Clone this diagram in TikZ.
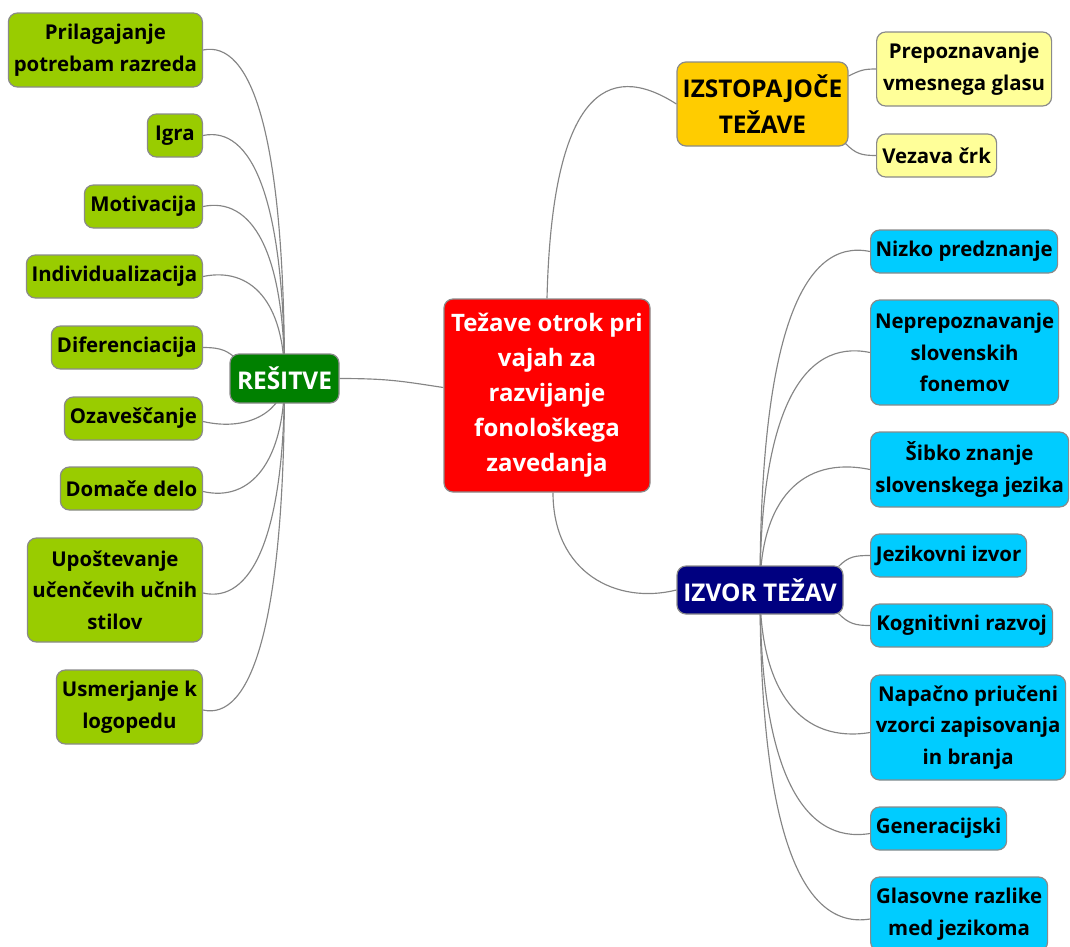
\documentclass[tikz,border=0pt]{standalone}
\usepackage{fontspec}
\setmainfont{Open Sans}
\usetikzlibrary{calc,backgrounds}

\definecolor{leafgreen}{HTML}{99CC00}
\definecolor{darkgreen}{HTML}{008000}
\definecolor{rootred}{HTML}{FF0000}
\definecolor{amber}{HTML}{FFCC00}
\definecolor{paleyellow}{HTML}{FFFF99}
\definecolor{navy}{HTML}{000080}
\definecolor{skyblue}{HTML}{00CCFF}
\definecolor{rimgray}{HTML}{8A8A8A}
\definecolor{edgegray}{HTML}{858585}

\tikzset{
  box/.style={draw=rimgray, line width=1.2pt, rounded corners=9pt, inner sep=0pt,
    align=center, font=\bfseries\fontsize{20.4}{31.5}\selectfont},
  greenleaf/.style={box, fill=leafgreen, anchor=east},
  blueleaf/.style={box, fill=skyblue, anchor=west},
  yellowleaf/.style={box, fill=paleyellow, anchor=west},
  hub/.style={box, font=\bfseries\fontsize{24.4}{36}\selectfont},
  edge/.style={draw=edgegray, line width=1.15pt},
}

\begin{document}
\begin{tikzpicture}[x=1pt, y=-1pt]
\useasboundingbox (0,0) rectangle (1070,946);

% central topic
\node[hub, fill=rootred, text=white, minimum width=206, minimum height=193,
  font=\bfseries\fontsize{24}{35}\selectfont] (main) at (547,395.5)
  {Težave otrok pri\\vajah za\\razvijanje\\fonološkega\\zavedanja};

% main branches
\node[hub, fill=darkgreen, text=white, minimum width=109, minimum height=49] (resh) at (284.5,378.5) {REŠITVE};
\node[hub, fill=amber, minimum width=171, minimum height=84] (izst) at (762.5,104) {IZSTOPAJOČE\\TEŽAVE};
\node[hub, fill=navy, text=white, minimum width=166, minimum height=48] (izvo) at (760,590) {IZVOR TEŽAV};

% solutions
\node[greenleaf, minimum width=194, minimum height=74]  (pril) at (203,50)    {Prilagajanje\\potrebam razreda};
\node[greenleaf, minimum width=55,  minimum height=43]  (igra) at (203,135.5) {Igra};
\node[greenleaf, minimum width=118, minimum height=43]  (moti) at (203,206.5) {Motivacija};
\node[greenleaf, minimum width=176, minimum height=43]  (indi) at (203,276.5) {Individualizacija};
\node[greenleaf, minimum width=151, minimum height=43]  (dife) at (203,347.5) {Diferenciacija};
\node[greenleaf, minimum width=138, minimum height=43]  (ozav) at (203,418.5) {Ozaveščanje};
\node[greenleaf, minimum width=142, minimum height=43]  (doma) at (203,488.5) {Domače delo};
\node[greenleaf, minimum width=175, minimum height=104] (upos) at (203,590)   {Upoštevanje\\učenčevih učnih\\stilov};
\node[greenleaf, minimum width=146, minimum height=74]  (usme) at (203,707)   {Usmerjanje k\\logopedu};

% prominent difficulties
\node[yellowleaf, minimum width=175, minimum height=74] (prep) at (876,69)    {Prepoznavanje\\vmesnega glasu};
\node[yellowleaf, minimum width=120, minimum height=43] (veza) at (876,155.5) {Vezava črk};

% sources of difficulties
\node[blueleaf, minimum width=187, minimum height=43]  (nizk) at (870,251.5) {Nizko predznanje};
\node[blueleaf, minimum width=188, minimum height=105] (nepr) at (870,352.5) {Neprepoznavanje\\slovenskih\\fonemov};
\node[blueleaf, minimum width=198, minimum height=75]  (sibk) at (870,469.5) {Šibko znanje\\slovenskega jezika};
\node[blueleaf, minimum width=156, minimum height=43]  (jezi) at (870,555.5) {Jezikovni izvor};
\node[blueleaf, minimum width=182, minimum height=43]  (kogn) at (870,625.5) {Kognitivni razvoj};
\node[blueleaf, minimum width=195, minimum height=105] (napa) at (870,727.5) {Napačno priučeni\\vzorci zapisovanja\\in branja};
\node[blueleaf, minimum width=136, minimum height=43]  (gene) at (870,828.5) {Generacijski};
\node[blueleaf, minimum width=177, minimum height=74]  (glas) at (870,914)   {Glasovne razlike\\med jezikoma};

\begin{scope}[on background layer]
  % central topic to its branches
  \draw[edge] (resh.east) .. controls +(50,0) and +(-40,-6) .. ($(main.west)+(0,-8)$);
  \draw[edge] (main.north) .. controls +(5,-205) and +(-70,-45) .. (izst.west);
  \draw[edge] ($(main.south)+(6,0)$) .. controls +(0,80) and +(-60,15) .. (izvo.west);

  % solutions: leaves above the hub
  \foreach \leaf in {pril,igra,moti,indi}
    \draw[edge] (resh.center) .. controls ($(resh.center |- \leaf.east)!0.25!(resh.center)$)
      and ($(\leaf.east)+(48,-10)$) .. (\leaf.east);
  \draw[edge] (dife.east) .. controls +(20,0) and +(-10,-8) .. ($(resh.north west)+(8,6)$);
  % solutions: leaves below the hub
  \foreach \leaf in {ozav,doma,upos,usme}
    \draw[edge] (resh.center) .. controls ($(resh.center |- \leaf.east)!0.25!(resh.center)$)
      and ($(\leaf.east)+(48,14)$) .. ($(\leaf.east)+(0,3)$);

  % prominent difficulties
  \draw[edge] ($(izst.east)+(0,-28)$) .. controls +(12,-6) and +(-12,0) .. (prep.west);
  \draw[edge] ($(izst.south east)+(-3,-3)$) .. controls +(10,10) and +(-15,0) .. (veza.west);

  % sources: leaves above the hub
  \foreach \leaf in {nizk,nepr,sibk}
    \draw[edge] (izvo.center) .. controls ($(izvo.center |- \leaf.west)!0.25!(izvo.center)$)
      and ($(\leaf.west)+(-68,-14)$) .. (\leaf.west);
  \draw[edge] ($(izvo.north east)+(-5,1)$) .. controls +(10,-10) and +(-15,0) .. (jezi.west);
  \draw[edge] ($(izvo.south east)+(-5,-1)$) .. controls +(10,10) and +(-15,0) .. (kogn.west);
  % sources: leaves below the hub
  \foreach \leaf in {napa,gene,glas}
    \draw[edge] (izvo.center) .. controls ($(izvo.center |- \leaf.west)!0.25!(izvo.center)$)
      and ($(\leaf.west)+(-68,16)$) .. ($(\leaf.west)+(0,5)$);
\end{scope}
\end{tikzpicture}
\end{document}
